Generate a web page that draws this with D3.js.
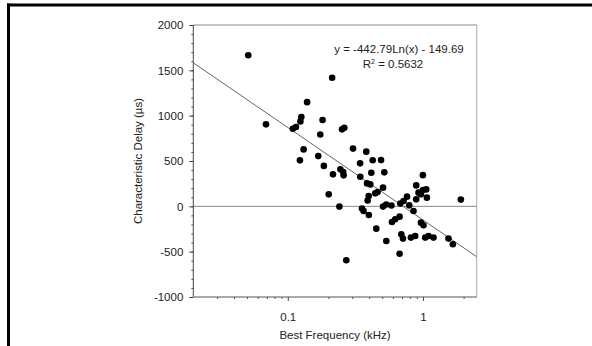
<!DOCTYPE html>
<html>
<head>
<meta charset="utf-8">
<script src="https://cdn.jsdelivr.net/npm/d3@7"></script>
<style>
  body { margin: 0; background: #fff; }
  svg { display: block; font-family: "Liberation Sans", Arial, sans-serif; }
</style>
</head>
<body>
<div id="chart"></div>
<script>
// best frequency (kHz) and characteristic delay (us)
const freqs = [0.051, 0.069, 0.213, 0.139, 0.126, 0.124, 0.115, 0.109, 0.181, 0.174,
  0.252, 0.262, 0.131, 0.123, 0.168, 0.185, 0.304, 0.381, 0.343, 0.425,
  0.490, 0.415, 0.518, 0.216, 0.245, 0.257, 0.259, 0.344, 0.386, 0.408,
  0.507, 0.462, 0.444, 0.397, 0.390, 0.201, 0.241, 0.271, 0.354, 0.364,
  0.398, 0.452, 0.507, 0.535, 0.585, 0.536, 0.590, 0.624, 0.672, 0.692,
  0.712, 0.672, 0.680, 0.719, 0.763, 0.792, 0.852, 0.815, 0.877, 0.967,
  1.010, 1.040, 1.100, 1.198, 1.546, 1.666, 0.892, 0.928, 0.892, 1.000,
  1.058, 1.070, 0.967, 1.000, 1.909]
const delays = [1667, 904, 1418, 1149, 986, 937, 875, 855, 953, 793,
  849, 867, 628, 507, 554, 446, 637, 603, 474, 509,
  510, 371, 375, 353, 408, 378, 342, 327, 253, 242,
  206, 158, 143, 114, 64, 132, -3, -595, -25, -52,
  -96, -246, -3, 20, 10, -382, -173, -143, -114, -309,
  -356, -523, 30, 58, 107, 11, -52, -345, -327, -180,
  -209, -345, -327, -345, -356, -419, 77, 151, 231, 180,
  187, 96, 132, 344, 74]

// fit shown on the figure: y = a*ln(x) + b
const fitSlope = -442.79
const fitIntercept = -149.69
const fitLabel = "y = -442.79Ln(x) - 149.69"
const r2Label = "0.5632"

const xDomain = [0.02, 2.5]
const yDomain = [-1000, 2000]
const yTicks = [-1000, -500, 0, 500, 1000, 1500, 2000]
const xMajorTicks = [0.1, 1]
const xMinorTicks = [0.03, 0.04, 0.05, 0.06, 0.07, 0.08, 0.09,
  0.2, 0.3, 0.4, 0.5, 0.6, 0.7, 0.8, 0.9, 2]

const w = 592, h = 346
const plotL = 193.3, plotR = 476.7, plotT = 25, plotB = 297
const font = 11.5

const svg = d3.select("#chart").append("svg")
  .attr("width", w)
  .attr("height", h)

// cropped frame of the page (top and left only)
svg.append("line")
  .attr("x1", 7).attr("x2", w).attr("y1", 5).attr("y2", 5)
  .attr("stroke", "#000").attr("stroke-width", 3)
svg.append("line")
  .attr("x1", 8.5).attr("x2", 8.5).attr("y1", 3.5).attr("y2", h)
  .attr("stroke", "#000").attr("stroke-width", 3)

const x = d3.scaleLog().domain(xDomain).range([plotL, plotR])
const y = d3.scaleLinear().domain(yDomain).range([plotB, plotT])

// box top and right
svg.append("line")
  .attr("x1", plotL).attr("x2", plotR).attr("y1", plotT).attr("y2", plotT)
  .attr("stroke", "#888").attr("stroke-width", 1)
svg.append("line")
  .attr("x1", plotR).attr("x2", plotR).attr("y1", plotT).attr("y2", plotB)
  .attr("stroke", "#aaa").attr("stroke-width", 1)

// zero line
svg.append("line")
  .attr("x1", plotL).attr("x2", plotR).attr("y1", y(0)).attr("y2", y(0))
  .attr("stroke", "#888").attr("stroke-width", 1)

// y axis, minor ticks every 100
const yMinor = d3.range(yDomain[0], yDomain[1] + 1, 100)
svg.append("g")
  .attr("transform", `translate(${plotL},0)`)
  .call(d3.axisLeft(y).tickValues(yMinor).tickSize(2).tickFormat(""))
  .call(g => g.select(".domain").remove())
  .selectAll("line").attr("stroke", "#555")

const yAxis = svg.append("g")
  .attr("transform", `translate(${plotL},0)`)
  .call(d3.axisLeft(y).tickValues(yTicks).tickSize(4).tickPadding(6).tickFormat(d => String(d)))
yAxis.select(".domain").attr("stroke", "#444").attr("d", `M0,${plotT}V${plotB}`)
yAxis.selectAll("line").attr("stroke", "#444")
yAxis.selectAll("text")
  .attr("fill", "#222")
  .style("font-size", font + "px")
  .style("font-family", "Liberation Sans, Arial, sans-serif")

// x axis
svg.append("g")
  .attr("transform", `translate(0,${plotB})`)
  .call(d3.axisBottom(x).tickValues(xMinorTicks).tickSize(2).tickFormat(""))
  .call(g => g.select(".domain").remove())
  .selectAll("line").attr("stroke", "#555")

const xAxis = svg.append("g")
  .attr("transform", `translate(0,${plotB})`)
  .call(d3.axisBottom(x).tickValues(xMajorTicks).tickSize(4).tickPadding(12).tickFormat(d => String(d)))
xAxis.select(".domain").attr("stroke", "#555").attr("d", `M${plotL},0H${plotR}`)
xAxis.selectAll("line").attr("stroke", "#444")
xAxis.selectAll("text")
  .attr("fill", "#222")
  .style("font-size", font + "px")
  .style("font-family", "Liberation Sans, Arial, sans-serif")

// fitted line, straight in semi-log space
const fitLine = d3.line()
  .x(d => x(d))
  .y(d => y(fitSlope * Math.log(d) + fitIntercept))
svg.append("path")
  .attr("d", fitLine(xDomain))
  .attr("fill", "none")
  .attr("stroke", "#666")
  .attr("stroke-width", 1)

// points
svg.append("g").selectAll("circle")
  .data(freqs.map((f, i) => ({f: f, d: delays[i]})))
  .join("circle")
  .attr("cx", d => x(d.f))
  .attr("cy", d => y(d.d))
  .attr("r", 3.3)
  .attr("fill", "#000")

// equation
svg.append("text")
  .attr("x", 399).attr("y", 53)
  .attr("text-anchor", "middle")
  .attr("fill", "#222")
  .style("font-size", font + "px")
  .text(fitLabel)
const r2 = svg.append("text")
  .attr("x", 393).attr("y", 68)
  .attr("text-anchor", "middle")
  .attr("fill", "#222")
  .style("font-size", font + "px")
r2.append("tspan").text("R")
r2.append("tspan").attr("dy", -4).style("font-size", "7px").text("2")
r2.append("tspan").attr("dy", 4).text(" = " + r2Label)

// axis titles
svg.append("text")
  .attr("transform", `translate(142,${(plotT + plotB) / 2}) rotate(-90)`)
  .attr("text-anchor", "middle")
  .attr("fill", "#222")
  .style("font-size", font + "px")
  .text("Characteristic Delay (\u00b5s)")

svg.append("text")
  .attr("x", (plotL + plotR) / 2).attr("y", 339)
  .attr("text-anchor", "middle")
  .attr("fill", "#222")
  .style("font-size", font + "px")
  .text("Best Frequency (kHz)")
</script>
</body>
</html>
